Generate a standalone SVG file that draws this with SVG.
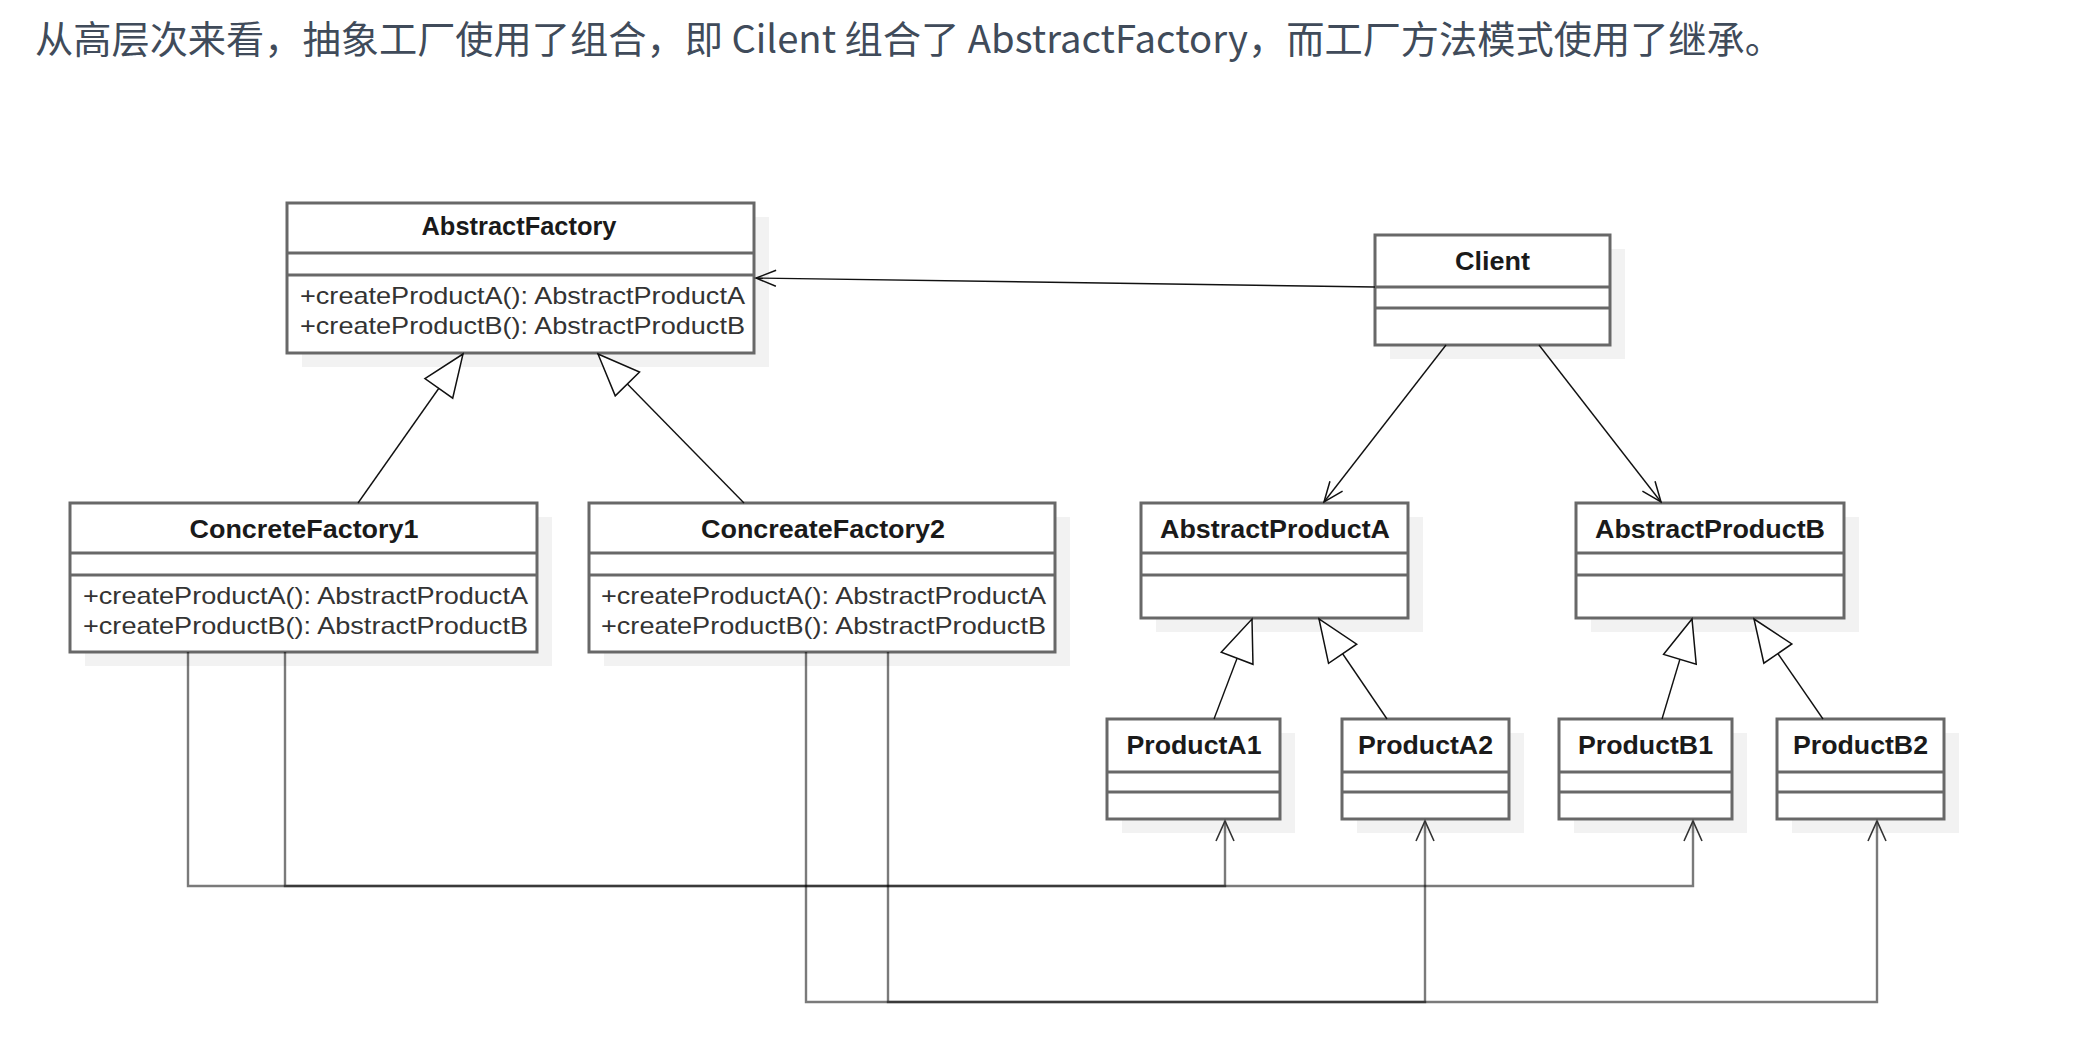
<svg xmlns="http://www.w3.org/2000/svg" width="2086" height="1052" viewBox="0 0 2086 1052">
<style>
.bg{fill:#ffffff}
.sh{fill:#f2f2f2}
.box{fill:#ffffff;stroke:#686868;stroke-width:3}
.div{stroke:#686868;stroke-width:3}
.title{font-family:"Liberation Sans",Arial,sans-serif;font-size:25px;font-weight:bold;fill:#1a1a1a;text-anchor:middle}
.meth{font-family:"Liberation Sans",Arial,sans-serif;font-size:24px;fill:#333333}
.head{font-family:"Noto Sans CJK SC","Noto Sans",sans-serif;font-size:38px;fill:#404b5a}
.assoc{fill:none;stroke:#111;stroke-width:1.4}
.inh{fill:none;stroke:#111;stroke-width:1.4}
.dep{fill:none;stroke:#000;stroke-opacity:0.52;stroke-width:2.4}
</style>
<defs>
<marker id="open" viewBox="-23 -11 25 22" refX="0" refY="0" markerWidth="25" markerHeight="22" orient="auto" markerUnits="userSpaceOnUse">
<path d="M-20,-8 L0,0 L-20,8" fill="none" stroke="#111" stroke-width="1.5"/>
</marker>
<marker id="tri" viewBox="-45 -20 47 40" refX="0" refY="0" markerWidth="47" markerHeight="40" orient="auto" markerUnits="userSpaceOnUse">
<path d="M-42,-17 L0,0 L-42,17 Z" fill="#ffffff" stroke="#111" stroke-width="1.5"/>
</marker>
<marker id="deparr" viewBox="-23 -12 25 24" refX="0" refY="0" markerWidth="25" markerHeight="24" orient="auto" markerUnits="userSpaceOnUse">
<path d="M-20,-9 L0,0 L-20,9" fill="none" stroke="#333" stroke-width="1.6"/>
</marker>
</defs>
<rect class="bg" x="0" y="0" width="2086" height="1052"/>

<text class="head" x="35" y="53" textLength="1748" lengthAdjust="spacingAndGlyphs">从高层次来看，抽象工厂使用了组合，即 Cilent 组合了 AbstractFactory，而工厂方法模式使用了继承。</text>

<g id="AbstractFactory">
<rect class="sh" x="302" y="217" width="467" height="150"/>
<rect class="box" x="287" y="203" width="467" height="150"/>
<line class="div" x1="287" y1="253" x2="754" y2="253"/>
<line class="div" x1="287" y1="275" x2="754" y2="275"/>
<text class="title" x="519" y="235" textLength="195" lengthAdjust="spacingAndGlyphs">AbstractFactory</text>
<text class="meth" x="300" y="304" textLength="445" lengthAdjust="spacingAndGlyphs">+createProductA(): AbstractProductA</text>
<text class="meth" x="300" y="334" textLength="445" lengthAdjust="spacingAndGlyphs">+createProductB(): AbstractProductB</text>
</g>

<g id="Client">
<rect class="sh" x="1390" y="249" width="235" height="110"/>
<rect class="box" x="1375" y="235" width="235" height="110"/>
<line class="div" x1="1375" y1="287" x2="1610" y2="287"/>
<line class="div" x1="1375" y1="308" x2="1610" y2="308"/>
<text class="title" x="1492.5" y="270" textLength="75" lengthAdjust="spacingAndGlyphs">Client</text>
</g>

<g id="ConcreteFactory1">
<rect class="sh" x="85" y="517" width="467" height="149"/>
<rect class="box" x="70" y="503" width="467" height="149"/>
<line class="div" x1="70" y1="553" x2="537" y2="553"/>
<line class="div" x1="70" y1="575" x2="537" y2="575"/>
<text class="title" x="304" y="538" textLength="229" lengthAdjust="spacingAndGlyphs">ConcreteFactory1</text>
<text class="meth" x="83" y="604" textLength="445" lengthAdjust="spacingAndGlyphs">+createProductA(): AbstractProductA</text>
<text class="meth" x="83" y="634" textLength="445" lengthAdjust="spacingAndGlyphs">+createProductB(): AbstractProductB</text>
</g>

<g id="ConcreateFactory2">
<rect class="sh" x="604" y="517" width="466" height="149"/>
<rect class="box" x="589" y="503" width="466" height="149"/>
<line class="div" x1="589" y1="553" x2="1055" y2="553"/>
<line class="div" x1="589" y1="575" x2="1055" y2="575"/>
<text class="title" x="823" y="538" textLength="244" lengthAdjust="spacingAndGlyphs">ConcreateFactory2</text>
<text class="meth" x="601" y="604" textLength="445" lengthAdjust="spacingAndGlyphs">+createProductA(): AbstractProductA</text>
<text class="meth" x="601" y="634" textLength="445" lengthAdjust="spacingAndGlyphs">+createProductB(): AbstractProductB</text>
</g>

<g id="AbstractProductA">
<rect class="sh" x="1156" y="517" width="267" height="115"/>
<rect class="box" x="1141" y="503" width="267" height="115"/>
<line class="div" x1="1141" y1="553" x2="1408" y2="553"/>
<line class="div" x1="1141" y1="575" x2="1408" y2="575"/>
<text class="title" x="1275" y="538" textLength="230" lengthAdjust="spacingAndGlyphs">AbstractProductA</text>
</g>

<g id="AbstractProductB">
<rect class="sh" x="1591" y="517" width="268" height="115"/>
<rect class="box" x="1576" y="503" width="268" height="115"/>
<line class="div" x1="1576" y1="553" x2="1844" y2="553"/>
<line class="div" x1="1576" y1="575" x2="1844" y2="575"/>
<text class="title" x="1710" y="538" textLength="230" lengthAdjust="spacingAndGlyphs">AbstractProductB</text>
</g>

<g id="ProductA1">
<rect class="sh" x="1122" y="733" width="173" height="100"/>
<rect class="box" x="1107" y="719" width="173" height="100"/>
<line class="div" x1="1107" y1="772" x2="1280" y2="772"/>
<line class="div" x1="1107" y1="792" x2="1280" y2="792"/>
<text class="title" x="1194" y="754" textLength="135" lengthAdjust="spacingAndGlyphs">ProductA1</text>
</g>

<g id="ProductA2">
<rect class="sh" x="1357" y="733" width="167" height="100"/>
<rect class="box" x="1342" y="719" width="167" height="100"/>
<line class="div" x1="1342" y1="772" x2="1509" y2="772"/>
<line class="div" x1="1342" y1="792" x2="1509" y2="792"/>
<text class="title" x="1425.5" y="754" textLength="135" lengthAdjust="spacingAndGlyphs">ProductA2</text>
</g>

<g id="ProductB1">
<rect class="sh" x="1574" y="733" width="173" height="100"/>
<rect class="box" x="1559" y="719" width="173" height="100"/>
<line class="div" x1="1559" y1="772" x2="1732" y2="772"/>
<line class="div" x1="1559" y1="792" x2="1732" y2="792"/>
<text class="title" x="1645.5" y="754" textLength="135" lengthAdjust="spacingAndGlyphs">ProductB1</text>
</g>

<g id="ProductB2">
<rect class="sh" x="1792" y="733" width="167" height="100"/>
<rect class="box" x="1777" y="719" width="167" height="100"/>
<line class="div" x1="1777" y1="772" x2="1944" y2="772"/>
<line class="div" x1="1777" y1="792" x2="1944" y2="792"/>
<text class="title" x="1860.5" y="754" textLength="135" lengthAdjust="spacingAndGlyphs">ProductB2</text>
</g>

<g id="connectors">
<path class="assoc" d="M1375,287 L756,278" marker-end="url(#open)"/>
<path class="assoc" d="M1446,345 L1324,502" marker-end="url(#open)"/>
<path class="assoc" d="M1539,345 L1661,502" marker-end="url(#open)"/>
<path class="inh" d="M358,503 L463,354" marker-end="url(#tri)"/>
<path class="inh" d="M744,503 L598,354" marker-end="url(#tri)"/>
<path class="inh" d="M1214,719 L1252,619" marker-end="url(#tri)"/>
<path class="inh" d="M1387,719 L1319,619" marker-end="url(#tri)"/>
<path class="inh" d="M1662,719 L1692,619" marker-end="url(#tri)"/>
<path class="inh" d="M1823,719 L1754,619" marker-end="url(#tri)"/>
<path class="dep" d="M188,652 V886 H1225 V821" marker-end="url(#deparr)"/>
<path class="dep" d="M285,652 V886 H1693 V821" marker-end="url(#deparr)"/>
<path class="dep" d="M806,652 V1002 H1425 V821" marker-end="url(#deparr)"/>
<path class="dep" d="M888,652 V1002 H1877 V821" marker-end="url(#deparr)"/>
</g>
</svg>
